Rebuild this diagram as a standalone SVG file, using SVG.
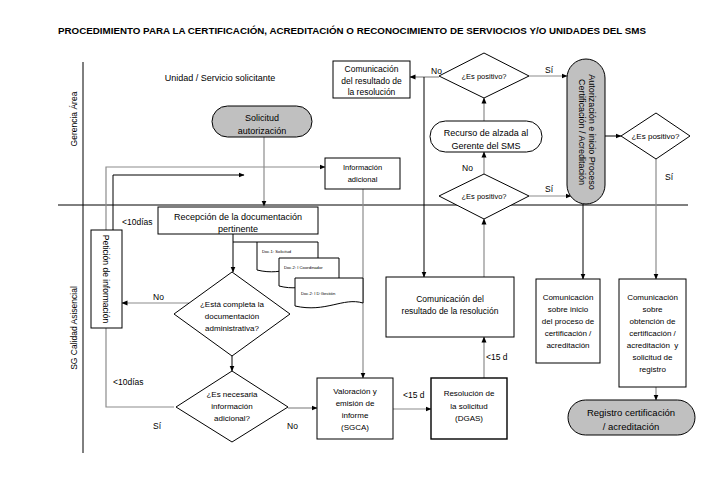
<svg xmlns="http://www.w3.org/2000/svg" width="703" height="499" viewBox="0 0 703 499">
<style>
text{font-family:"Liberation Sans",Arial,sans-serif;fill:#000}
.t{font-size:9px;text-anchor:middle}
.s{font-size:8px;text-anchor:middle}
.l{font-size:8.5px}
.d{font-size:4.2px}
.box{fill:#fff;stroke:#000;stroke-width:1}
.pill{fill:#c0c0c0;stroke:#000;stroke-width:1}
.g{fill:none;stroke:#8c8c8c;stroke-width:1.2}
.k{fill:none;stroke:#000;stroke-width:1}
.a{marker-end:url(#ah)}
</style>
<defs>
<marker id="ah" markerWidth="6" markerHeight="6" refX="5.5" refY="3" orient="auto" markerUnits="userSpaceOnUse">
<path d="M0,0.5 L6,3 L0,5.5 Z" fill="#000"/>
</marker>
</defs>
<rect width="703" height="499" fill="#fff"/>
<text x="352" y="34" textLength="588" lengthAdjust="spacingAndGlyphs" style="font-size:9.5px;font-weight:bold;text-anchor:middle">PROCEDIMIENTO PARA LA CERTIFICACIÓN, ACREDITACIÓN O RECONOCIMIENTO DE SERVIOCIOS Y/O UNIDADES DEL SMS</text>
<g id="lanes">
<line x1="58" y1="205" x2="688" y2="205" stroke="#000" stroke-width="1"/>
<line x1="83" y1="62" x2="83" y2="453" stroke="#000" stroke-width="1"/>
<text class="t" transform="translate(77,119) rotate(-90)" style="font-size:8.5px">Gerencia Área</text>
<text class="t" transform="translate(77,328) rotate(-90)" style="font-size:8.5px">SG Calidad Asisencial</text>
<text class="t" x="220" y="81">Unidad / Servicio solicitante</text>
</g>
<g id="connectors">
<path class="g a" d="M264,137 V206"/>
<path class="g" d="M174,407 H106 V328"/>
<path class="g a" d="M106,230 V167 H325"/>
<path class="k a" d="M113,230 V175 H244"/>
<path class="k a" d="M233,234 V272"/>
<path class="k" d="M233,242 H257"/>
<path class="g a" d="M189,303 H122"/>
<path class="k a" d="M232,356 V371"/>
<path class="g a" d="M288,408 H317"/>
<path class="g a" d="M363,189 V378"/>
<path class="g a" d="M393,409 H431"/>
<path class="g a" d="M484,378 V337"/>
<path class="g a" d="M484,277 V219"/>
<path class="g a" d="M484,174 V152"/>
<path class="g a" d="M484,121 V98"/>
<path class="g a" d="M439,77 H410"/>
<path class="k a" d="M424,77 V277"/>
<path class="g a" d="M529,76 H567"/>
<path class="g a" d="M529,196 H571"/>
<path class="k a" d="M605,136 H621"/>
<path class="g a" d="M656,159 V279"/>
<path class="k a" d="M583,204 V279"/>
<path class="g a" d="M656,387 V400"/>
<text class="l" x="153" y="300">No</text>
<text class="l" x="122" y="225">&lt;10días</text>
<text class="l" x="113" y="385">&lt;10días</text>
<text class="l" x="153" y="429">Sí</text>
<text class="l" x="287" y="429">No</text>
<text class="l" x="403" y="398">&lt;15 d</text>
<text class="l" x="486" y="360">&lt;15 d</text>
<text class="l" x="431" y="74">No</text>
<text class="l" x="462" y="171">No</text>
<text class="l" x="545" y="73">Sí</text>
<text class="l" x="545" y="192">Sí</text>
<text class="l" x="665" y="180">Sí</text>
</g>
<g id="solicitud">
<rect class="pill" x="212" y="106" width="100" height="31" rx="15.5"/>
<text class="t" x="262" y="121">Solicitud</text>
<text class="t" x="262" y="134">autorización</text>
</g>
<g id="recepcion">
<rect class="box" x="158" y="207" width="160" height="27"/>
<text class="t" x="238" y="220">Recepción de la documentación</text>
<text class="t" x="238" y="232">pertinente</text>
</g>
<g id="docs">
<path class="box" d="M257,242 H318 V267 C300,261 285,277 257,270 Z"/>
<text class="d" x="262" y="253">Doc.1: Solicitud</text>
<path class="box" d="M279,258 H339 V283 C321,277 306,293 279,286 Z"/>
<text class="d" x="284" y="269">Doc.2: I Coordinador</text>
<path class="box" d="M295,278 H363 V303 C343,297 326,313 295,306 Z"/>
<text class="d" x="301" y="295">Doc.2: I D Gestión</text>
</g>
<g id="info-adicional">
<rect class="box" x="325" y="158" width="75" height="31"/>
<text class="s" x="362.5" y="170" style="font-size:7.5px">Información</text>
<text class="s" x="362.5" y="182" style="font-size:7.5px">adicional</text>
</g>
<g id="peticion">
<rect class="box" x="91" y="230" width="31" height="98"/>
<text class="t" transform="translate(103,279) rotate(90)" style="font-size:8.5px">Petición de información</text>
</g>
<g id="completa">
<polygon class="box" points="232,272 290,314 232,356 174,314"/>
<text class="s" x="232" y="307">¿Está completa la</text>
<text class="s" x="232" y="319">documentación</text>
<text class="s" x="232" y="331">administrativa?</text>
</g>
<g id="necesaria">
<polygon class="box" points="232,371 288,407 232,442 176,407"/>
<text class="s" x="232" y="397">¿Es necesaria</text>
<text class="s" x="232" y="409">información</text>
<text class="s" x="232" y="421">adicional?</text>
</g>
<g id="valoracion">
<rect class="box" x="317" y="378" width="76" height="61"/>
<text class="s" x="355" y="394">Valoración y</text>
<text class="s" x="355" y="406">emisión de</text>
<text class="s" x="355" y="418">informe</text>
<text class="s" x="355" y="430">(SGCA)</text>
</g>
<g id="resolucion">
<rect class="box" x="431" y="378" width="76" height="61" style="stroke-width:1.4"/>
<text class="s" x="469" y="396">Resolución de</text>
<text class="s" x="469" y="409">la solicitud</text>
<text class="s" x="469" y="421">(DGAS)</text>
</g>
<g id="comunicacion-resultado">
<rect class="box" x="386" y="277" width="128" height="60"/>
<text class="t" x="450" y="302" style="font-size:8.5px">Comunicación del</text>
<text class="t" x="450" y="314" style="font-size:8.5px">resultado de la resolución</text>
</g>
<g id="positivo-inferior">
<polygon class="box" points="484,174 529,196 484,219 439,196"/>
<text class="s" x="484" y="199" style="font-size:7.5px">¿Es positivo?</text>
</g>
<g id="recurso">
<rect class="box" x="430" y="121" width="112" height="31" rx="15.5"/>
<text class="t" x="486" y="136">Recurso de alzada al</text>
<text class="t" x="486" y="149">Gerente del SMS</text>
</g>
<g id="positivo-superior">
<polygon class="box" points="484,53 529,76 484,98 439,76"/>
<text class="s" x="484" y="79" style="font-size:7.5px">¿Es positivo?</text>
</g>
<g id="comunicacion-superior">
<rect class="box" x="333" y="61" width="77" height="37"/>
<text class="t" x="371.5" y="72" style="font-size:8.5px">Comunicación</text>
<text class="t" x="371.5" y="84" style="font-size:8.5px">del resultado de</text>
<text class="t" x="371.5" y="95" style="font-size:8.5px">la resolución</text>
</g>
<g id="autorizacion">
<rect class="pill" x="567" y="59" width="38" height="145" rx="19"/>
<text class="t" transform="translate(589,132) rotate(90)"><tspan x="0" y="0">Autorización e inicio Proceso</tspan><tspan x="0" dy="10.5">Certificación / Acreditación</tspan></text>
</g>
<g id="positivo-derecha">
<polygon class="box" points="621,136 656,113 690,136 656,159"/>
<text class="s" x="655.5" y="139">¿Es positivo?</text>
</g>
<g id="comunicacion-inicio">
<rect class="box" x="536" y="279" width="64" height="84"/>
<text class="s" x="568" y="300">Comunicación</text>
<text class="s" x="568" y="312">sobre inicio</text>
<text class="s" x="568" y="324">del proceso de</text>
<text class="s" x="568" y="336">certificación /</text>
<text class="s" x="568" y="348">acreditación</text>
</g>
<g id="comunicacion-obtencion">
<rect class="box" x="619" y="279" width="67" height="108"/>
<text class="s" x="652.5" y="300">Comunicación</text>
<text class="s" x="652.5" y="312">sobre</text>
<text class="s" x="652.5" y="324">obtención de</text>
<text class="s" x="652.5" y="336">certificación /</text>
<text class="s" x="652.5" y="348" xml:space="preserve">acreditación  y</text>
<text class="s" x="652.5" y="360">solicitud de</text>
<text class="s" x="652.5" y="372">registro</text>
</g>
<g id="registro">
<rect class="pill" x="568" y="400" width="127" height="35" rx="17.5"/>
<text class="t" x="631" y="416" style="font-size:9.5px">Registro certificación</text>
<text class="t" x="631" y="430" style="font-size:9.5px">/ acreditación</text>
</g>
</svg>
